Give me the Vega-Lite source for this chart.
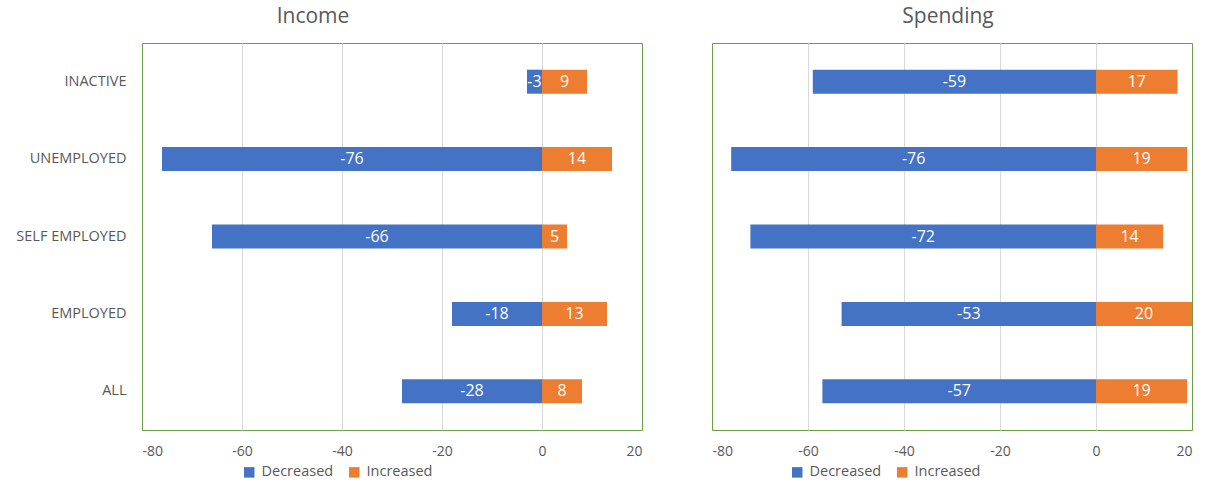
{
  "$schema": "https://vega.github.io/schema/vega-lite/v6.json",
  "background": "white",
  "padding": 5,
  "config": {
    "font": "Open Sans",
    "locale": {"number": {"decimal": ".", "thousands": ",", "grouping": [3], "currency": ["$", ""], "minus": "-"}},
    "view": {"stroke": "#6a9f45", "strokeWidth": 1},
    "axis": {"labelColor": "#595959", "labelFontSize": 14, "ticks": false, "domain": false, "title": null, "gridColor": "#d9d9d9", "gridWidth": 1},
    "legend": {"labelColor": "#595959", "labelFontSize": 14.5, "symbolType": "square", "symbolSize": 110, "symbolStrokeWidth": 0, "labelOffset": 5, "columnPadding": 13, "title": null}
  },
  "datasets": {
    "income": [
      {"group": "INACTIVE", "type": "Decreased", "value": -3},
      {"group": "INACTIVE", "type": "Increased", "value": 9},
      {"group": "UNEMPLOYED", "type": "Decreased", "value": -76},
      {"group": "UNEMPLOYED", "type": "Increased", "value": 14},
      {"group": "SELF EMPLOYED", "type": "Decreased", "value": -66},
      {"group": "SELF EMPLOYED", "type": "Increased", "value": 5},
      {"group": "EMPLOYED", "type": "Decreased", "value": -18},
      {"group": "EMPLOYED", "type": "Increased", "value": 13},
      {"group": "ALL", "type": "Decreased", "value": -28},
      {"group": "ALL", "type": "Increased", "value": 8}
    ],
    "spending": [
      {"group": "INACTIVE", "type": "Decreased", "value": -59},
      {"group": "INACTIVE", "type": "Increased", "value": 17},
      {"group": "UNEMPLOYED", "type": "Decreased", "value": -76},
      {"group": "UNEMPLOYED", "type": "Increased", "value": 19},
      {"group": "SELF EMPLOYED", "type": "Decreased", "value": -72},
      {"group": "SELF EMPLOYED", "type": "Increased", "value": 14},
      {"group": "EMPLOYED", "type": "Decreased", "value": -53},
      {"group": "EMPLOYED", "type": "Increased", "value": 20},
      {"group": "ALL", "type": "Decreased", "value": -57},
      {"group": "ALL", "type": "Increased", "value": 19}
    ]
  },
  "bounds": "flush",
  "spacing": 70,
  "hconcat": [
    {
      "width": 500,
      "height": 387,
      "title": {"text": "Income", "fontSize": 21, "fontWeight": "normal", "color": "#595959", "offset": 16, "frame": "group", "anchor": "middle", "dx": -79},
      "data": {"name": "income"},
      "layer": [
        {
          "mark": {"type": "bar", "size": 24},
          "encoding": {
            "y": {"field": "group", "type": "nominal", "sort": ["INACTIVE", "UNEMPLOYED", "SELF EMPLOYED", "EMPLOYED", "ALL"], "scale": {"paddingInner": 0, "paddingOuter": 0}, "axis": {"labelPadding": 16, "labelFontSize": 14.5, "minExtent": 136, "maxExtent": 136, "grid": false}},
            "x": {"field": "value", "type": "quantitative", "stack": null, "scale": {"domain": [-80, 20], "nice": false}, "axis": {"values": [-80, -60, -40, -20, 0, 20], "labelPadding": 14, "grid": true, "gridColor": {"condition": {"test": "datum.value == -80 || datum.value == 20", "value": "transparent"}, "value": "#d9d9d9"}}},
            "color": {"field": "type", "type": "nominal", "scale": {"domain": ["Decreased", "Increased"], "range": ["#4472C4", "#ED7D31"]}, "legend": {"orient": "none", "direction": "horizontal", "legendX": 100, "legendY": 422}}
          }
        },
        {
          "mark": {"type": "text", "color": "white", "fontSize": 16},
          "encoding": {
            "y": {"field": "group", "type": "nominal", "sort": ["INACTIVE", "UNEMPLOYED", "SELF EMPLOYED", "EMPLOYED", "ALL"]},
            "x": {"field": "value", "type": "quantitative", "stack": null, "scale": {"domain": [-160, 40], "nice": false, "zero": false}, "axis": null},
            "text": {"field": "value", "type": "quantitative"}
          }
        }
      ],
      "resolve": {"scale": {"x": "independent"}, "axis": {"x": "independent"}}
    },
    {
      "width": 480,
      "height": 387,
      "title": {"text": "Spending", "fontSize": 21, "fontWeight": "normal", "color": "#595959", "offset": 16, "frame": "group", "anchor": "middle", "dx": -4},
      "data": {"name": "spending"},
      "layer": [
        {
          "mark": {"type": "bar", "size": 24},
          "encoding": {
            "y": {"field": "group", "type": "nominal", "sort": ["INACTIVE", "UNEMPLOYED", "SELF EMPLOYED", "EMPLOYED", "ALL"], "scale": {"paddingInner": 0, "paddingOuter": 0}, "axis": null},
            "x": {"field": "value", "type": "quantitative", "stack": null, "scale": {"domain": [-80, 20], "nice": false}, "axis": {"values": [-80, -60, -40, -20, 0, 20], "labelPadding": 14, "grid": true, "gridColor": {"condition": {"test": "datum.value == -80 || datum.value == 20", "value": "transparent"}, "value": "#d9d9d9"}}},
            "color": {"field": "type", "type": "nominal", "scale": {"domain": ["Decreased", "Increased"], "range": ["#4472C4", "#ED7D31"]}, "legend": {"orient": "none", "direction": "horizontal", "legendX": 78, "legendY": 422}}
          }
        },
        {
          "mark": {"type": "text", "color": "white", "fontSize": 16},
          "encoding": {
            "y": {"field": "group", "type": "nominal", "sort": ["INACTIVE", "UNEMPLOYED", "SELF EMPLOYED", "EMPLOYED", "ALL"]},
            "x": {"field": "value", "type": "quantitative", "stack": null, "scale": {"domain": [-160, 40], "nice": false, "zero": false}, "axis": null},
            "text": {"field": "value", "type": "quantitative"}
          }
        }
      ],
      "resolve": {"scale": {"x": "independent"}, "axis": {"x": "independent"}}
    }
  ],
  "resolve": {"scale": {"color": "independent"}, "legend": {"color": "independent"}}
}
